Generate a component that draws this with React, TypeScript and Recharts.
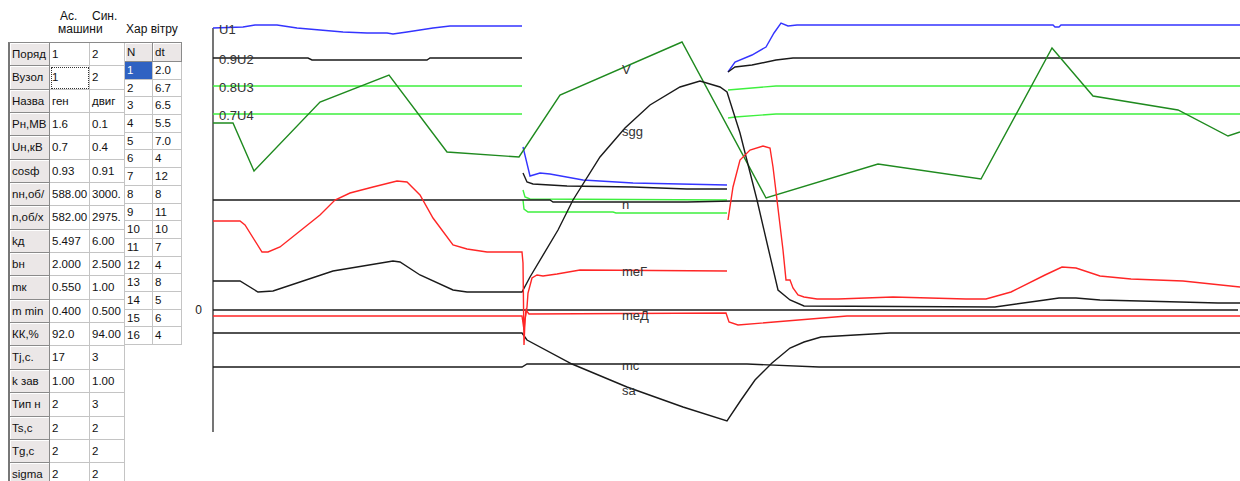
import { LineChart, Line, XAxis, YAxis, ReferenceLine, ReferenceDot } from "recharts"

type Pt = [number, number | null]

// time (s) vs. trace level on the oscillogram (0 = zero line); null = recorder gap during switching
const u1: Pt[] = [[0, 282], [3.0, 283], [4.2, 285], [6.4, 285], [8.4, 282], [10.7, 280], [13.0, 278], [15.4, 277], [17.4, 277], [18.0, 276], [19.4, 278], [22.0, 282], [23.7, 284], [30.9, 284], [30.95, null], [31.0, 163], [31.7, 134], [32.7, 137], [33.7, 136], [37.0, 130], [42.0, 127], [51.4, 125], [51.45, null], [51.5, 238], [52.2, 248], [53.9, 255], [55.3, 263], [56.1, 277], [56.8, 287], [57.5, 284], [58.4, 285], [84.0, 285], [84.2, 283], [84.6, 283], [84.8, 285], [102.7, 285]]
const u2: Pt[] = [[0, 252], [9.5, 252], [9.9, 250], [21.4, 250], [21.7, 252], [30.9, 252], [30.95, null], [31.0, 137], [31.4, 128], [32.0, 126], [35.4, 124], [42.0, 123], [47.4, 121], [51.4, 121], [51.45, null], [51.5, 238], [52.2, 243], [53.9, 245], [56.3, 250], [58.0, 252], [102.7, 252]]
const u3: Pt[] = [[0, 224], [30.9, 224], [30.95, null], [31.0, 120], [31.2, 113], [31.7, 111], [51.4, 110], [51.45, null], [51.5, 220], [56.3, 224], [102.7, 224]]
const u4: Pt[] = [[0, 196], [30.9, 196], [30.95, null], [31.0, 110], [31.1, 101], [31.5, 98], [40.0, 98], [40.3, 97], [51.4, 97], [51.45, null], [51.5, 192], [52.2, 193], [56.3, 196], [102.7, 196]]
const wind: Pt[] = [[0, 187], [2.0, 187], [4.1, 139], [10.7, 208], [17.6, 235], [23.4, 158], [30.6, 153], [34.7, 215], [46.9, 268], [55.3, 112], [66.5, 146], [76.8, 131], [83.9, 262], [88.0, 214], [96.5, 200], [101.5, 174], [102.7, 178]]
const speed: Pt[] = [[0, 110], [33.7, 110], [34.0, 108], [47.4, 108], [52.0, 109], [102.7, 109]]
const sgg: Pt[] = [[0, 29], [2.7, 29], [4.5, 18], [6.0, 19], [12.0, 39], [18.0, 49], [18.7, 48], [20.7, 35], [24.0, 20], [25.4, 18], [30.9, 18], [31.7, 33], [34.5, 80], [36.0, 110], [38.7, 153], [41.2, 182], [43.7, 205], [46.7, 223], [48.7, 229], [50.7, 223], [51.4, 218], [52.7, 177], [54.4, 110], [55.4, 67], [56.5, 20], [57.7, 10], [59.1, 4], [78.2, 3], [83.2, 10], [84.6, 12], [86.3, 12], [88.7, 10], [96.7, 8], [100.5, 7], [102.7, 7]]
const meG: Pt[] = [[0, 89], [2.7, 89], [3.2, 85], [4.9, 58], [5.5, 58], [6.7, 63], [10.7, 95], [12.2, 110], [13.7, 117], [16.0, 123], [18.4, 129], [19.4, 128], [20.7, 115], [22.0, 92], [24.0, 65], [25.4, 61], [27.4, 58], [30.9, 58], [31.0, 47], [31.1, -35], [31.2, -10], [31.4, 3], [31.5, 17], [31.9, 32], [32.4, 35], [33.0, 34], [34.4, 36], [36.7, 40], [51.4, 39], [51.45, null], [51.5, 90], [52.0, 123], [52.7, 150], [53.7, 160], [55.0, 164], [55.7, 162], [56.0, 143], [56.4, 110], [57.0, 60], [57.3, 30], [57.7, 30], [58.0, 22], [58.5, 15], [59.1, 13], [60.4, 11], [62.5, 11], [68.0, 13], [75.3, 11], [77.3, 11], [79.8, 18], [83.2, 35], [84.9, 43], [86.3, 42], [88.7, 34], [91.8, 31], [97.0, 29], [102.7, 23]]
const meD: Pt[] = [[0, -6], [30.9, -6], [31.1, -20], [31.3, 0], [31.6, -4], [51.3, -3], [51.6, -12], [52.5, -15], [63.4, -6], [102.7, -6]]
const sa: Pt[] = [[0, -23], [30.9, -23], [31.4, -30], [35.9, -54], [41.4, -77], [47.0, -97], [51.4, -111], [52.8, -90], [54.2, -70], [55.9, -53], [57.7, -38], [59.1, -32], [60.8, -27], [64.2, -25], [67.7, -23], [102.7, -23]]
const mc: Pt[] = [[0, -57], [30.9, -57], [31.4, -54], [53.4, -54], [60.6, -57], [102.7, -57]]

const traceLabels: { text: string; t: number; v: number }[] = [
  { text: "U1", t: 0.7, v: 280 },
  { text: "0.9U2", t: 0.7, v: 250 },
  { text: "0.8U3", t: 0.7, v: 222 },
  { text: "0.7U4", t: 0.7, v: 194 },
  { text: "V", t: 41, v: 240 },
  { text: "sgg", t: 41, v: 178 },
  { text: "n", t: 41, v: 105 },
  { text: "meГ", t: 41, v: 38 },
  { text: "meД", t: 41, v: -6 },
  { text: "mc", t: 41, v: -56 },
  { text: "sa", t: 41, v: -81 },
]

// parameters of the two machines (as shown, clipped by the grid)
const paramNames = ["Поряд", "Вузол", "Назва", "Рн,МВ", "Uн,кВ", "cosф", "nн,об/", "n,об/х", "kд", "bн", "mк", "m min", "КК,%", "Tj,c.", "k зав", "Тип н", "Ts,c", "Tg,c", "sigma"]
const asyncMachine = ["1", "1", "ген", "1.6", "0.7", "0.93", "588.00", "582.00", "5.497", "2.000", "0.550", "0.400", "92.0", "17", "1.00", "2", "2", "2", "2"]
const syncMachine = ["2", "2", "двиг", "0.1", "0.4", "0.91", "3000.", "2975.", "6.00", "2.500", "1.00", "0.500", "94.00", "3", "1.00", "3", "2", "2", "2"]

// wind profile
const windN = ["1", "2", "3", "4", "5", "6", "7", "8", "9", "10", "11", "12", "13", "14", "15", "16"]
const windDt = ["2.0", "6.7", "6.5", "5.5", "7.0", "4", "12", "8", "11", "10", "7", "4", "8", "5", "6", "4"]

const toRows = (pts: Pt[]) => pts.map(([t, v]) => ({ t, v }))

const BLACK = "#1a1a1a"
const LIGHT_GREEN = "#3ef03e"

const series = [
  { name: "U1", pts: u1, color: "#3434ff" },
  { name: "U2", pts: u2, color: BLACK },
  { name: "U3", pts: u3, color: LIGHT_GREEN },
  { name: "U4", pts: u4, color: LIGHT_GREEN },
  { name: "n", pts: speed, color: BLACK },
  { name: "V", pts: wind, color: "#1f8a1f" },
  { name: "sgg", pts: sgg, color: BLACK },
  { name: "mc", pts: mc, color: BLACK },
  { name: "sa", pts: sa, color: BLACK },
  { name: "meD", pts: meD, color: "#ff2626" },
  { name: "meG", pts: meG, color: "#ff2626" },
]

const TraceLabel = (props: any) => {
  const { viewBox, value } = props
  return (
    <text x={viewBox.x} y={viewBox.y} dy="0.36em" fontSize={13} fill="#333" fontFamily="Liberation Sans, Arial, sans-serif">
      {value}
    </text>
  )
}

const ROW_H = 23.35
const headCell: React.CSSProperties = {
  background: "#ebe7e7",
  borderRight: "1px solid #8a8a8a",
  borderBottom: "1px solid #8a8a8a",
  boxShadow: "inset 1px 1px 0 #fff",
}
const dataCell: React.CSSProperties = {
  background: "#fff",
  borderRight: "1px solid #c4c4c4",
  borderBottom: "1px solid #c4c4c4",
}
const cellText: React.CSSProperties = {
  boxSizing: "border-box",
  overflow: "hidden",
  whiteSpace: "nowrap",
  paddingLeft: 2,
  fontSize: 11.5,
}

function MachineTable() {
  return (
    <div style={{ position: "absolute", left: 8, top: 42, borderLeft: "2px solid #777", borderTop: "1px solid #8a8a8a" }}>
      {paramNames.map((name, i) => (
        <div key={name} style={{ display: "flex", height: ROW_H, lineHeight: `${ROW_H - 1}px` }}>
          <div style={{ ...cellText, ...headCell, width: 40 }}>{name}</div>
          <div style={{ ...cellText, ...dataCell, width: 40, outline: i === 1 ? "1px dotted #333" : undefined, outlineOffset: -2 }}>
            {asyncMachine[i]}
          </div>
          <div style={{ ...cellText, ...dataCell, width: 35 }}>{syncMachine[i]}</div>
        </div>
      ))}
    </div>
  )
}

function WindTable() {
  const rowH = 17.7
  return (
    <div style={{ position: "absolute", left: 125, top: 42, borderTop: "1px solid #8a8a8a" }}>
      <div style={{ display: "flex", height: 19, lineHeight: "18px" }}>
        <div style={{ ...cellText, ...headCell, width: 28 }}>N</div>
        <div style={{ ...cellText, ...headCell, width: 29 }}>dt</div>
      </div>
      {windN.map((n, i) => (
        <div key={n} style={{ display: "flex", height: rowH, lineHeight: `${rowH - 1}px` }}>
          <div
            style={{
              ...cellText,
              ...dataCell,
              width: 28,
              background: i === 0 ? "#2f62c2" : "#fff",
              color: i === 0 ? "#fff" : "#111",
            }}
          >
            {n}
          </div>
          <div style={{ ...cellText, ...dataCell, width: 29 }}>{windDt[i]}</div>
        </div>
      ))}
    </div>
  )
}

export default function App() {
  return (
    <div
      style={{
        position: "fixed",
        left: 0,
        top: 0,
        width: 1240,
        height: 481,
        overflow: "hidden",
        background: "#fff",
        color: "#111",
        fontFamily: "Liberation Sans, Arial, sans-serif",
      }}
    >
      <div style={{ position: "absolute", left: 60, top: 9, fontSize: 12 }}>Ас.</div>
      <div style={{ position: "absolute", left: 92, top: 9, fontSize: 12 }}>Син.</div>
      <div style={{ position: "absolute", left: 58, top: 22, fontSize: 12 }}>машини</div>
      <div style={{ position: "absolute", left: 126, top: 22, fontSize: 12 }}>Хар вітру</div>
      <div style={{ position: "absolute", left: 123, top: 42, width: 2, height: 432, background: "#cddbf0" }} />
      <MachineTable />
      <WindTable />

      <div style={{ position: "absolute", left: 178, top: 0 }}>
        <LineChart width={1062} height={481} margin={{ top: 20, right: 0, bottom: 49, left: 0 }}>
          <XAxis type="number" dataKey="t" domain={[0, 102.7]} hide allowDataOverflow />
          <YAxis
            type="number"
            domain={[-122, 290]}
            ticks={[0]}
            width={35}
            tickLine={false}
            tickMargin={5}
            axisLine={false}
            tick={{ fontSize: 12, fill: "#222" }}
            allowDataOverflow
          />
          <ReferenceLine
            segment={[
              { x: 0, y: -122 },
              { x: 0, y: 282 },
            ]}
            stroke={BLACK}
            strokeWidth={1.2}
          />
          <ReferenceLine
            segment={[
              { x: 0, y: 0 },
              { x: 102.5, y: 0 },
            ]}
            stroke={BLACK}
            strokeWidth={1.3}
          />
          {series.map((s) => (
            <Line
              key={s.name}
              data={toRows(s.pts)}
              dataKey="v"
              type="linear"
              stroke={s.color}
              strokeWidth={1.4}
              dot={false}
              activeDot={false}
              connectNulls={false}
              isAnimationActive={false}
            />
          ))}
          {traceLabels.map((l) => (
            <ReferenceDot
              key={l.text}
              x={l.t}
              y={l.v}
              r={1}
              fill="none"
              stroke="none"
              label={<TraceLabel value={l.text} />}
            />
          ))}
        </LineChart>
      </div>
    </div>
  )
}
